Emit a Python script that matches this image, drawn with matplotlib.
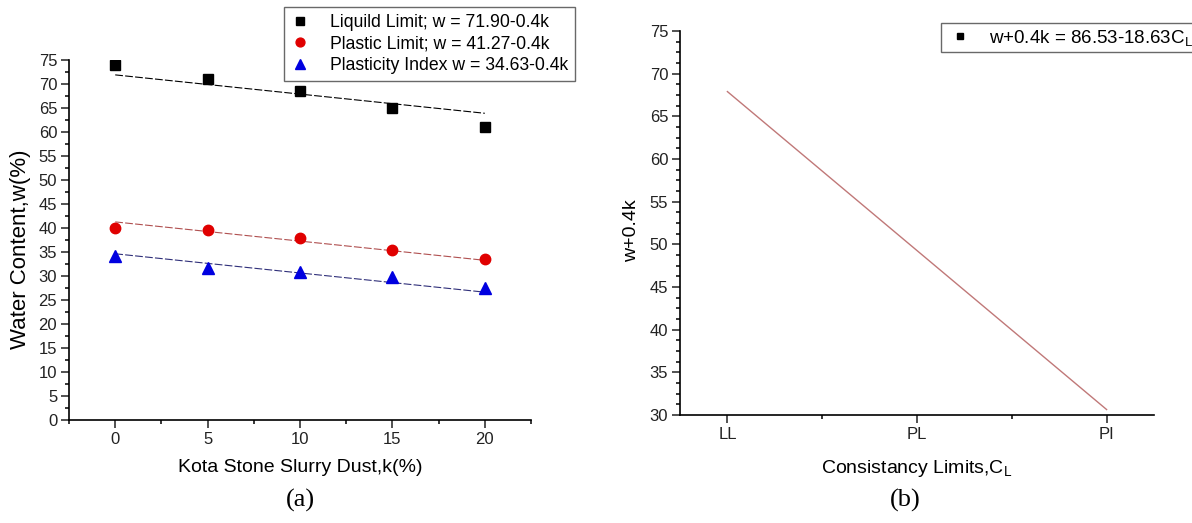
import matplotlib
matplotlib.use("Agg")
from matplotlib import pyplot as plt
from matplotlib.ticker import MultipleLocator

plt.rcParams["font.family"] = ["Liberation Sans", "DejaVu Sans"]
plt.rcParams["mathtext.default"] = "regular"

# (a) water content vs slurry dust
k = [0, 5, 10, 15, 20]
liquid_limit = [74.0, 71.0, 68.5, 65.0, 61.0]
plastic_limit = [40.0, 39.5, 37.9, 35.4, 33.6]
plasticity_index = [34.2, 31.7, 30.8, 29.7, 27.5]

k_fit = [0, 20]
liquid_fit = [71.90, 63.90]
plastic_fit = [41.27, 33.27]
index_fit = [34.63, 26.63]

# (b) normalised line
limit_names = ["LL", "PL", "PI"]
limit_pos = [0, 1, 2]
w_plus = [67.90, 49.27, 30.64]

W, H = 1192, 523
fig = plt.figure(figsize=(W / 100, H / 100), dpi=100)

ax1 = fig.add_axes([69 / W, 1 - 420 / H, (531 - 69) / W, (420 - 60) / H])
ax2 = fig.add_axes([680 / W, 1 - 415 / H, (1154 - 680) / W, (415 - 31) / H])

for ax in (ax1, ax2):
    ax.spines["top"].set_visible(False)
    ax.spines["right"].set_visible(False)
    ax.spines["left"].set_linewidth(1.2)
    ax.spines["bottom"].set_linewidth(1.2)
    ax.tick_params(which="major", direction="out", length=5.5, width=1.1,
                   labelsize=12, colors="#222222", pad=3)
    ax.tick_params(which="minor", direction="out", length=3, width=1.1)

dash = (0, (7, 2))
ax1.plot(k_fit, liquid_fit, color="black", lw=0.8, ls=dash)
ax1.plot(k_fit, plastic_fit, color="#b05050", lw=0.8, ls=dash)
ax1.plot(k_fit, index_fit, color="#30307a", lw=0.8, ls=dash)
ax1.plot(k, liquid_limit, "s", color="black", ms=6.5,
         label="Liquild Limit; w = 71.90-0.4k")
ax1.plot(k, plastic_limit, "o", color="#e00000", ms=7.5,
         label="Plastic Limit; w = 41.27-0.4k")
ax1.plot(k, plasticity_index, "^", color="#0000e0", ms=8,
         label="Plasticity Index w = 34.63-0.4k")

ax1.set_xlim(-2.5, 22.5)
ax1.set_ylim(0, 75)
ax1.xaxis.set_major_locator(MultipleLocator(5))
ax1.xaxis.set_minor_locator(MultipleLocator(2.5))
ax1.yaxis.set_major_locator(MultipleLocator(5))
ax1.yaxis.set_minor_locator(MultipleLocator(2.5))
ax1.set_xlabel("Kota Stone Slurry Dust,k(%)", fontsize=14)
ax1.set_ylabel("Water Content,w(%)", fontsize=16)
ax1.xaxis.set_label_coords(0.5, -0.108)
ax1.yaxis.set_label_coords(-0.082, 0.475)

leg1 = ax1.legend(loc="upper right", bbox_to_anchor=(575 / W, 1 - 7 / H),
                  bbox_transform=fig.transFigure, borderaxespad=0,
                  fontsize=12.7, frameon=True, fancybox=False,
                  handletextpad=1.2, labelspacing=0.25, borderpad=0.4,
                  handlelength=1.0, markerscale=0.85)
leg1.get_frame().set_edgecolor("#444444")
leg1.get_frame().set_linewidth(1.0)

ax2.plot(limit_pos, w_plus, color="#c07878", lw=1.0)
ax2.plot([], [], "s", color="black", ms=5,
         label=r"w+0.4k = 86.53-18.63C$_L$")
ax2.set_xlim(-0.25, 2.25)
ax2.set_ylim(30, 75)
ax2.set_xticks(limit_pos)
ax2.set_xticklabels(limit_names)
ax2.xaxis.set_minor_locator(MultipleLocator(0.5))
ax2.yaxis.set_major_locator(MultipleLocator(5))
ax2.yaxis.set_minor_locator(MultipleLocator(1.25))
ax2.set_xlabel(r"Consistancy Limits,C$_L$", fontsize=14)
ax2.set_ylabel("w+0.4k", fontsize=14)
ax2.xaxis.set_label_coords(0.5, -0.112)
ax2.yaxis.set_label_coords(-0.084, 0.48)

leg2 = ax2.legend(loc="upper left", bbox_to_anchor=(941 / W, 1 - 23 / H),
                  bbox_transform=fig.transFigure, borderaxespad=0,
                  fontsize=13.5, frameon=True, fancybox=False,
                  handletextpad=0.8, borderpad=0.25, handlelength=1.5)
leg2.get_frame().set_edgecolor("#444444")
leg2.get_frame().set_linewidth(1.0)

fig.text(300 / W, 1 - 500 / H, "(a)", family="Liberation Serif",
         fontsize=19, ha="center", va="center")
fig.text(905 / W, 1 - 500 / H, "(b)", family="Liberation Serif",
         fontsize=19, ha="center", va="center")

fig.savefig("out.png", dpi=100)
